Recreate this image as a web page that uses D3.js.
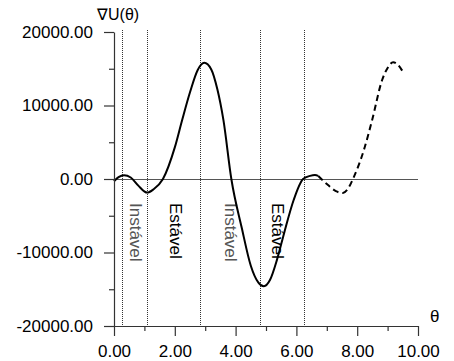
<!DOCTYPE html>
<html>
<head>
<meta charset="utf-8">
<script src="https://cdn.jsdelivr.net/npm/d3@7"></script>
<style>
    html, body { margin: 0; padding: 0; background: #fff; }
    text { font-family: 'Liberation Sans', Arial, sans-serif; }
</style>
</head>
<body>
<div id="chart-container"></div>
<script>
// gradient of U(theta)
const solidTheta = [0, 0.15, 0.33, 0.55, 0.8, 1.09, 1.3, 1.61, 2.0, 2.24, 2.5, 2.75, 2.97, 3.2, 3.4, 3.6, 3.86, 4.2, 4.5, 4.75, 4.93, 5.13, 5.36, 5.6, 5.91, 6.22, 6.45, 6.61, 6.72];
const solidValue = [-300, 250, 500, 200, -900, -1850, -1400, 0, 4300, 8000, 11800, 14800, 15800, 14900, 12200, 8000, 0, -6600, -11800, -14100, -14600, -13750, -11000, -7300, -2860, 0, 430, 540, 420];
const dashedTheta = [6.72, 7.04, 7.3, 7.53, 7.7, 7.86, 8.22, 8.49, 8.82, 9.0, 9.18, 9.35, 9.5];
const dashedValue = [420, -820, -1650, -1900, -1300, 0, 3950, 8000, 13470, 15100, 15900, 15500, 14600];

// equilibrium boundaries (dotted) and region labels
const boundaries = [0.26, 1.09, 2.83, 4.8, 6.25];
const regionTheta = [0.72, 2.04, 3.85, 5.39];
const regionLabels = ['Instável', 'Estável', 'Instável', 'Estável'];
const regionStable = [false, true, false, true];

const xMajorTicks = [0, 2, 4, 6, 8, 10];
const xMinorTicks = [1, 3, 5, 7, 9];
const yMajorTicks = [-20000, -10000, 0, 10000, 20000];
const yMinorTicks = [-15000, -5000, 5000, 15000];

const WIDTH = 454;
const HEIGHT = 361;
const MARGIN = { left: 114, right: 36, top: 32, bottom: 35 };
const FONT_SIZE = 17;
const AXIS_COLOR = '#333';

const x = d3.scaleLinear().domain([0, 10]).range([MARGIN.left, WIDTH - MARGIN.right]);
const y = d3.scaleLinear().domain([-20000, 20000]).range([HEIGHT - MARGIN.bottom, MARGIN.top]);
// plain hyphen for negatives, like the original
const fmt = (d) => d3.format('.2f')(d).replace('\u2212', '-');

const svg = d3
    .select('#chart-container')
    .append('svg')
    .attr('width', WIDTH)
    .attr('height', HEIGHT)
    .attr('viewBox', [0, 0, WIDTH, HEIGHT]);

// dotted boundary lines
svg.append('g')
    .selectAll('line')
    .data(boundaries)
    .join('line')
    .attr('x1', (d) => Math.round(x(d)) + 0.5)
    .attr('x2', (d) => Math.round(x(d)) + 0.5)
    .attr('y1', y(20000) - 2)
    .attr('y2', y(-20000))
    .attr('stroke', '#333')
    .attr('stroke-width', 1)
    .attr('stroke-dasharray', '1,1');

// zero line
svg.append('line')
    .attr('x1', x(0))
    .attr('x2', x(10))
    .attr('y1', Math.round(y(0)) + 0.5)
    .attr('y2', Math.round(y(0)) + 0.5)
    .attr('stroke', '#555')
    .attr('stroke-width', 1.2);

// region labels, rotated
svg.append('g')
    .selectAll('text')
    .data(regionTheta)
    .join('text')
    .attr('transform', (d) => `translate(${x(d)},${y(0) + 24}) rotate(90)`)
    .attr('dy', '0.35em')
    .attr('font-size', FONT_SIZE)
    .attr('fill', (d, i) => (regionStable[i] ? '#000' : '#555'))
    .text((d, i) => regionLabels[i]);

// curves
const line = d3
    .line()
    .x((d) => x(d[0]))
    .y((d) => y(d[1]))
    .curve(d3.curveMonotoneX);

svg.append('path')
    .datum(solidTheta.map((t, i) => [t, solidValue[i]]))
    .attr('d', line)
    .attr('fill', 'none')
    .attr('stroke', '#000')
    .attr('stroke-width', 2);

svg.append('path')
    .datum(dashedTheta.map((t, i) => [t, dashedValue[i]]))
    .attr('d', line)
    .attr('fill', 'none')
    .attr('stroke', '#000')
    .attr('stroke-width', 2)
    .attr('stroke-dasharray', '6,4');

// y axis
const yAxis = svg.append('g').attr('transform', `translate(${x(0)},0)`);
yAxis.call(
    d3.axisLeft(y).tickValues(yMajorTicks).tickFormat(fmt).tickSize(10).tickSizeOuter(0).tickPadding(11),
);
yAxis.append('g')
    .call(d3.axisLeft(y).tickValues(yMinorTicks).tickFormat('').tickSize(5).tickSizeOuter(0))
    .select('.domain')
    .remove();

// x axis
const xAxis = svg.append('g').attr('transform', `translate(0,${y(-20000)})`);
xAxis.call(
    d3.axisBottom(x).tickValues(xMajorTicks).tickFormat(fmt).tickSize(10).tickSizeOuter(0).tickPadding(9),
);
xAxis.append('g')
    .call(d3.axisBottom(x).tickValues(xMinorTicks).tickFormat('').tickSize(5).tickSizeOuter(0))
    .select('.domain')
    .remove();

svg.selectAll('.domain, .tick line').attr('stroke', AXIS_COLOR).attr('stroke-width', 1.2);
svg.selectAll('.tick text')
    .attr('font-size', FONT_SIZE)
    .attr('font-family', "'Liberation Sans', Arial, sans-serif")
    .attr('fill', '#000');

// axis titles
svg.append('text')
    .attr('x', 97)
    .attr('y', 20)
    .attr('font-size', 16)
    .text('∇U(θ)');

svg.append('text')
    .attr('x', 430)
    .attr('y', 322)
    .attr('font-size', 17)
    .text('θ');
</script>
</body>
</html>
